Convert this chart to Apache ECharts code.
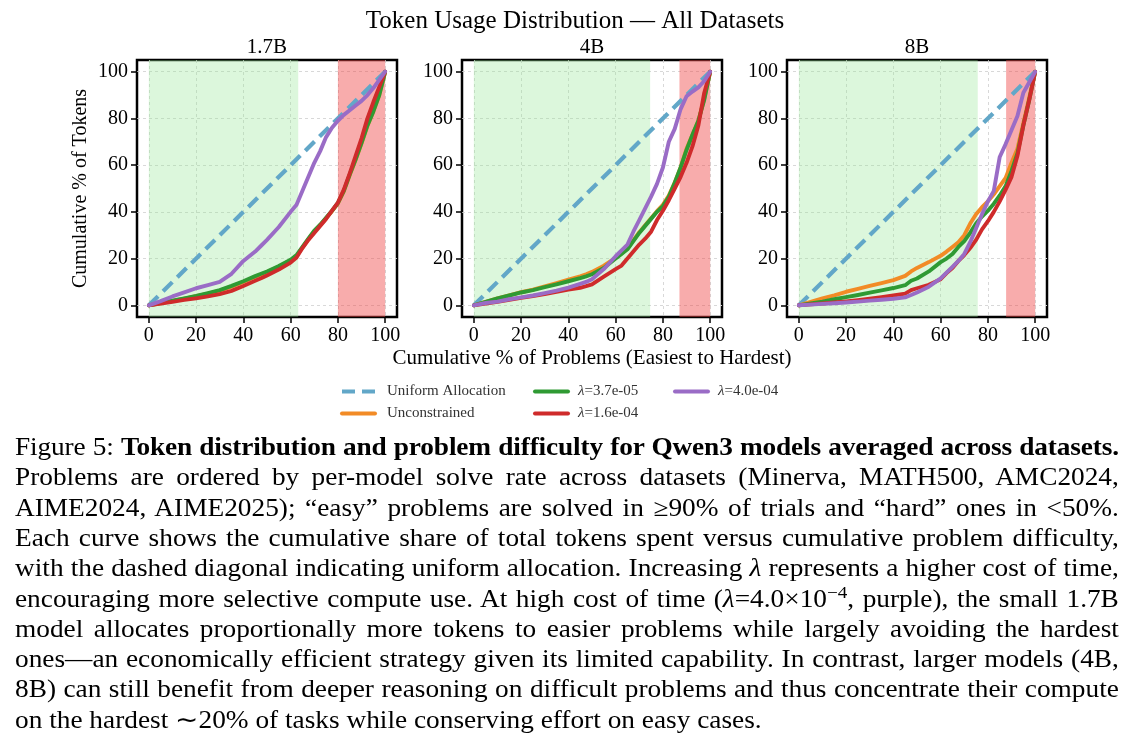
<!DOCTYPE html>
<html><head><meta charset="utf-8">
<script src="https://cdn.jsdelivr.net/npm/echarts@6.0.0/dist/echarts.min.js"></script>
<style>
html,body{margin:0;padding:0;background:#fff;}
#chart{position:absolute;left:0;top:0;width:1134px;height:742px;}
.cap{position:absolute;left:15px;width:990px;font-family:'Liberation Serif','Times New Roman',serif;font-size:24.5px;line-height:30px;color:#000;text-align:justify;text-align-last:justify;transform:scaleX(1.115);transform-origin:0 0;white-space:nowrap;}
.cap.last{text-align-last:left;}
.cap.tight{letter-spacing:-0.13px;}
.cap sup{font-size:0.7em;line-height:0;vertical-align:0.55em;}
.cap i{font-style:italic;}
</style>
</head><body>
<div id="chart"></div>
<div class="cap tight" style="top:432px">Figure 5: <b>Token distribution and problem difficulty for Qwen3 models averaged across datasets.</b></div>
<div class="cap" style="top:462.3px">Problems are ordered by per-model solve rate across datasets (Minerva, MATH500, AMC2024,</div>
<div class="cap" style="top:492.6px">AIME2024, AIME2025); “easy” problems are solved in ≥90% of trials and “hard” ones in &lt;50%.</div>
<div class="cap" style="top:522.9px">Each curve shows the cumulative share of total tokens spent versus cumulative problem difficulty,</div>
<div class="cap" style="top:553.2px">with the dashed diagonal indicating uniform allocation. Increasing <i>λ</i> represents a higher cost of time,</div>
<div class="cap" style="top:583.5px">encouraging more selective compute use. At high cost of time (<i>λ</i>=4.0×10<sup>−4</sup>, purple), the small 1.7B</div>
<div class="cap" style="top:613.8px">model allocates proportionally more tokens to easier problems while largely avoiding the hardest</div>
<div class="cap" style="top:644.1px">ones—an economically efficient strategy given its limited capability. In contrast, larger models (4B,</div>
<div class="cap" style="top:674.4px">8B) can still benefit from deeper reasoning on difficult problems and thus concentrate their compute</div>
<div class="cap last" style="top:704.7px">on the hardest ∼20% of tasks while conserving effort on easy cases.</div>
<script>
// ---------- data ----------
const panels = ['1.7B', '4B', '8B'];
const seriesNames = ['Uniform Allocation', 'Unconstrained', 'λ=3.7e-05', 'λ=1.6e-04', 'λ=4.0e-04'];
const tickValues = [0, 20, 40, 60, 80, 100];
const pctX = [0,5,10,15,20,25,30,35,40,45,47.5,50,55,60,62.5,65,67.5,70,72.5,75,77.5,80,82.5,85,87.5,90,92.5,95,97.5,100];
const uniformX = [0, 100];
const uniformY = [0, 100];

const unc17    = [0,0.9,1.9,2.9,3.9,5.0,6.3,8.0,10.0,12.2,13.2,14.2,16.5,19.2,21.2,24.7,28.2,31.7,34.3,37.3,40.3,43.6,48.8,55.7,62.3,69.3,76.8,83,90,100];
const green17  = [0,1,2,3,4,5.2,6.5,8.3,10.3,12.5,13.5,14.5,16.8,19.5,21.5,25,28.5,32,34.5,37.5,40.5,43.8,49,56,62.5,69.5,77,83,90,100];
const red17    = [0,0.8,1.5,2.3,3,3.8,4.8,6.2,8.3,10.5,11.6,12.8,15.3,18.3,20.5,24.5,28,31,34,37,40.5,44,49.5,56.5,64,71.5,80,87,93.5,100];
const purple17 = [0,1.8,3.8,5.5,7.3,8.6,10,13.5,19,23,25.5,28,33.5,40,43,49,55,61,66,72,76,79,81.5,83.5,85.5,87.5,90,93,96.5,100];

const unc4    = [0,1.5,3,4.3,5.6,6.7,8.1,9.5,11,12.4,13.3,14.3,17,20.3,22.2,24.3,27.8,31.3,34.3,37.3,40.3,43,47,52.5,59,67,73,79,88.5,100];
const green4  = [0,1.5,3,4.2,5.5,6.5,7.8,9,10.3,11.6,12.4,13.3,16,20,22,24,27.5,31,34,37,40,42.5,46.5,52.5,59,66.5,73,79,88,100];
const red4    = [0,0.8,1.5,2.4,3.2,4,4.8,5.8,6.7,7.5,8.2,9,12.3,15.5,17,20,23,26,28.5,31.5,36.5,40.5,45,50,55,61,68,77,91,100];
const purple4 = [0,1,1.6,2.6,3.4,4.2,5.2,6.3,7.6,9.2,10,11.2,15.5,21,23.5,26,31.5,36.5,41.5,46.5,52,59,70,75.5,84,89.5,91.5,93.3,96,100];

const unc8    = [0,1.5,3,4.3,5.8,7,8.3,9.5,10.8,12.6,14.5,16,18.5,21.2,23,25,27,30,35,39,42,44.5,47.5,51,54.5,61,67,78,89,100];
const green8  = [0,0.8,1.6,2.6,3.5,4.4,5.4,6.4,7.4,8.6,10.5,11.5,14.5,18.5,20,22,25,27.5,31,35,38,40.5,43.5,47,51,57.5,65,77,88,100];
const red8    = [0,0.4,0.8,1.2,1.7,2.2,2.8,3.5,4.2,5,6.5,7.3,8.8,11.2,13.8,16,19,21.5,24.5,28,32.5,36,40,44.5,49.5,55,64,77,88,100];
const purple8 = [0,0.3,0.6,0.9,1.2,1.6,2,2.4,2.8,3.4,4.4,5.5,8,11.5,14,16.5,19,22,27,33,39,44.5,49,63.5,69,75,81,91,95.5,100];

const panelSeries = [
  [unc17, green17, red17, purple17],
  [unc4, green4, red4, purple4],
  [unc8, green8, red8, purple8]
];
const easyEnd = [63.2, 74.6, 75.7];
const hardStart = [80, 87, 87.7];
const easyLabelPos = [22.5, 50];
const hardLabelPos = [90.5, 29];

// ---------- style ----------
const FONT = "'Liberation Serif','Times New Roman',serif";
const colors = ['#62a7c8', '#f28b26', '#2f9a33', '#cf2b2b', '#9a6cc6'];
const gridLeft = [137, 462, 787];

const pairs = (xs, ys) => xs.map((x, i) => [x, ys[i]]);

const grids = [], xAxes = [], yAxes = [], series = [], titles = [];
titles.push({text: 'Token Usage Distribution — All Datasets', left: 575, top: 9, textAlign: 'center', padding: 0,
  textStyle: {fontFamily: FONT, fontSize: 25, fontWeight: 'normal', color: '#000'}});

panels.forEach((p, k) => {
  grids.push({left: gridLeft[k], top: 60, width: 260, height: 257, show: true, borderColor: '#000', borderWidth: 2.5, backgroundColor: 'transparent', containLabel: false});
  titles.push({text: p, left: gridLeft[k] + 130, top: 37, textAlign: 'center', padding: 0,
    textStyle: {fontFamily: FONT, fontSize: 21, fontWeight: 'normal', color: '#000'}});
  const axisCommon = {
    type: 'value', min: -5, max: 105, gridIndex: k,
    axisLine: {show: false, onZero: false},
    axisTick: {show: true, customValues: tickValues, length: 6, lineStyle: {color: '#000', width: 1.5}},
    axisLabel: {customValues: tickValues, fontFamily: FONT, fontSize: 20, color: '#000', margin: 9},
    splitLine: {show: true, lineStyle: {color: '#cfcfcf', width: 0.8, type: [3, 3]}}
  };
  xAxes.push(Object.assign({}, axisCommon, k === 1 ? {
    name: 'Cumulative % of Problems (Easiest to Hardest)', nameLocation: 'middle', nameGap: 31,
    nameTextStyle: {fontFamily: FONT, fontSize: 21, color: '#000'}
  } : {}));
  yAxes.push(Object.assign({}, axisCommon, k === 0 ? {
    name: 'Cumulative % of Tokens', nameLocation: 'middle', nameGap: 46,
    nameTextStyle: {fontFamily: FONT, fontSize: 20, color: '#000'}
  } : {}));

  // shaded regions
  series.push({
    type: 'line', xAxisIndex: k, yAxisIndex: k, z: 1, silent: true, symbol: 'none',
    data: pairs(uniformX, uniformY), lineStyle: {opacity: 0}, legendHoverLink: false,
    markArea: {silent: true, itemStyle: {borderWidth: 0},
      data: [
        [{xAxis: 0, itemStyle: {color: 'rgba(150,232,150,0.33)'}}, {xAxis: easyEnd[k]}],
        [{xAxis: hardStart[k], itemStyle: {color: 'rgba(240,72,72,0.45)'}}, {xAxis: 100}]
      ]}
  });
  // uniform
  series.push({
    name: seriesNames[0], type: 'line', xAxisIndex: k, yAxisIndex: k, z: 3, symbol: 'none',
    data: pairs(uniformX, uniformY),
    lineStyle: {color: colors[0], width: 4.2, type: [13, 7]}, itemStyle: {color: colors[0]}
  });
  panelSeries[k].forEach((ys, j) => {
    series.push({
      name: seriesNames[j + 1], type: 'line', xAxisIndex: k, yAxisIndex: k, z: 4 + j, symbol: 'none',
      data: pairs(pctX, ys),
      lineStyle: {color: colors[j + 1], width: 3.9, join: 'round', cap: 'round'}, itemStyle: {color: colors[j + 1]}
    });
  });
  // region labels
  series.push({
    type: 'scatter', xAxisIndex: k, yAxisIndex: k, z: 10, silent: true, symbolSize: 1,
    itemStyle: {opacity: 0},
    data: [
      {value: easyLabelPos, label: {formatter: 'Easy Problems'}},
      {value: hardLabelPos, label: {formatter: 'Hard\nProblems'}}
    ],
    label: {show: true, position: 'inside', fontFamily: FONT, fontSize: 11.5, lineHeight: 12.5, color: '#1e1e1e', align: 'center'}
  });
});

const legendText = {fontFamily: FONT, fontSize: 15, color: '#333',
  rich: {i: {fontFamily: FONT, fontSize: 15, fontStyle: 'italic', color: '#333', padding: [0, 0, 0, 5]},
         n: {fontFamily: FONT, fontSize: 15, color: '#333'},
         p: {fontFamily: FONT, fontSize: 15, color: '#333', padding: [0, 0, 0, 7]}}};
const legendFmt = name => name.startsWith('λ') ? '{i|λ}{n|' + name.slice(1) + '}' : '{p|' + name + '}';
const legendBase = {orient: 'vertical', top: 384, itemWidth: 33, itemHeight: 14, itemGap: 7, padding: 0,
  textStyle: legendText, formatter: legendFmt, lineStyle: {width: 4}, itemStyle: {opacity: 0}, selectedMode: false};

const option = {
  animation: false,
  backgroundColor: '#fff',
  title: titles,
  legend: [
    Object.assign({}, legendBase, {left: 340, data: [seriesNames[0], seriesNames[1]]}),
    Object.assign({}, legendBase, {left: 533, data: [seriesNames[2], seriesNames[3]]}),
    Object.assign({}, legendBase, {left: 673, data: [seriesNames[4]]})
  ],
  grid: grids, xAxis: xAxes, yAxis: yAxes, series: series
};
const chart = echarts.init(document.getElementById('chart'), null, {renderer: 'canvas'});
chart.setOption(option);
</script>
</body></html>
